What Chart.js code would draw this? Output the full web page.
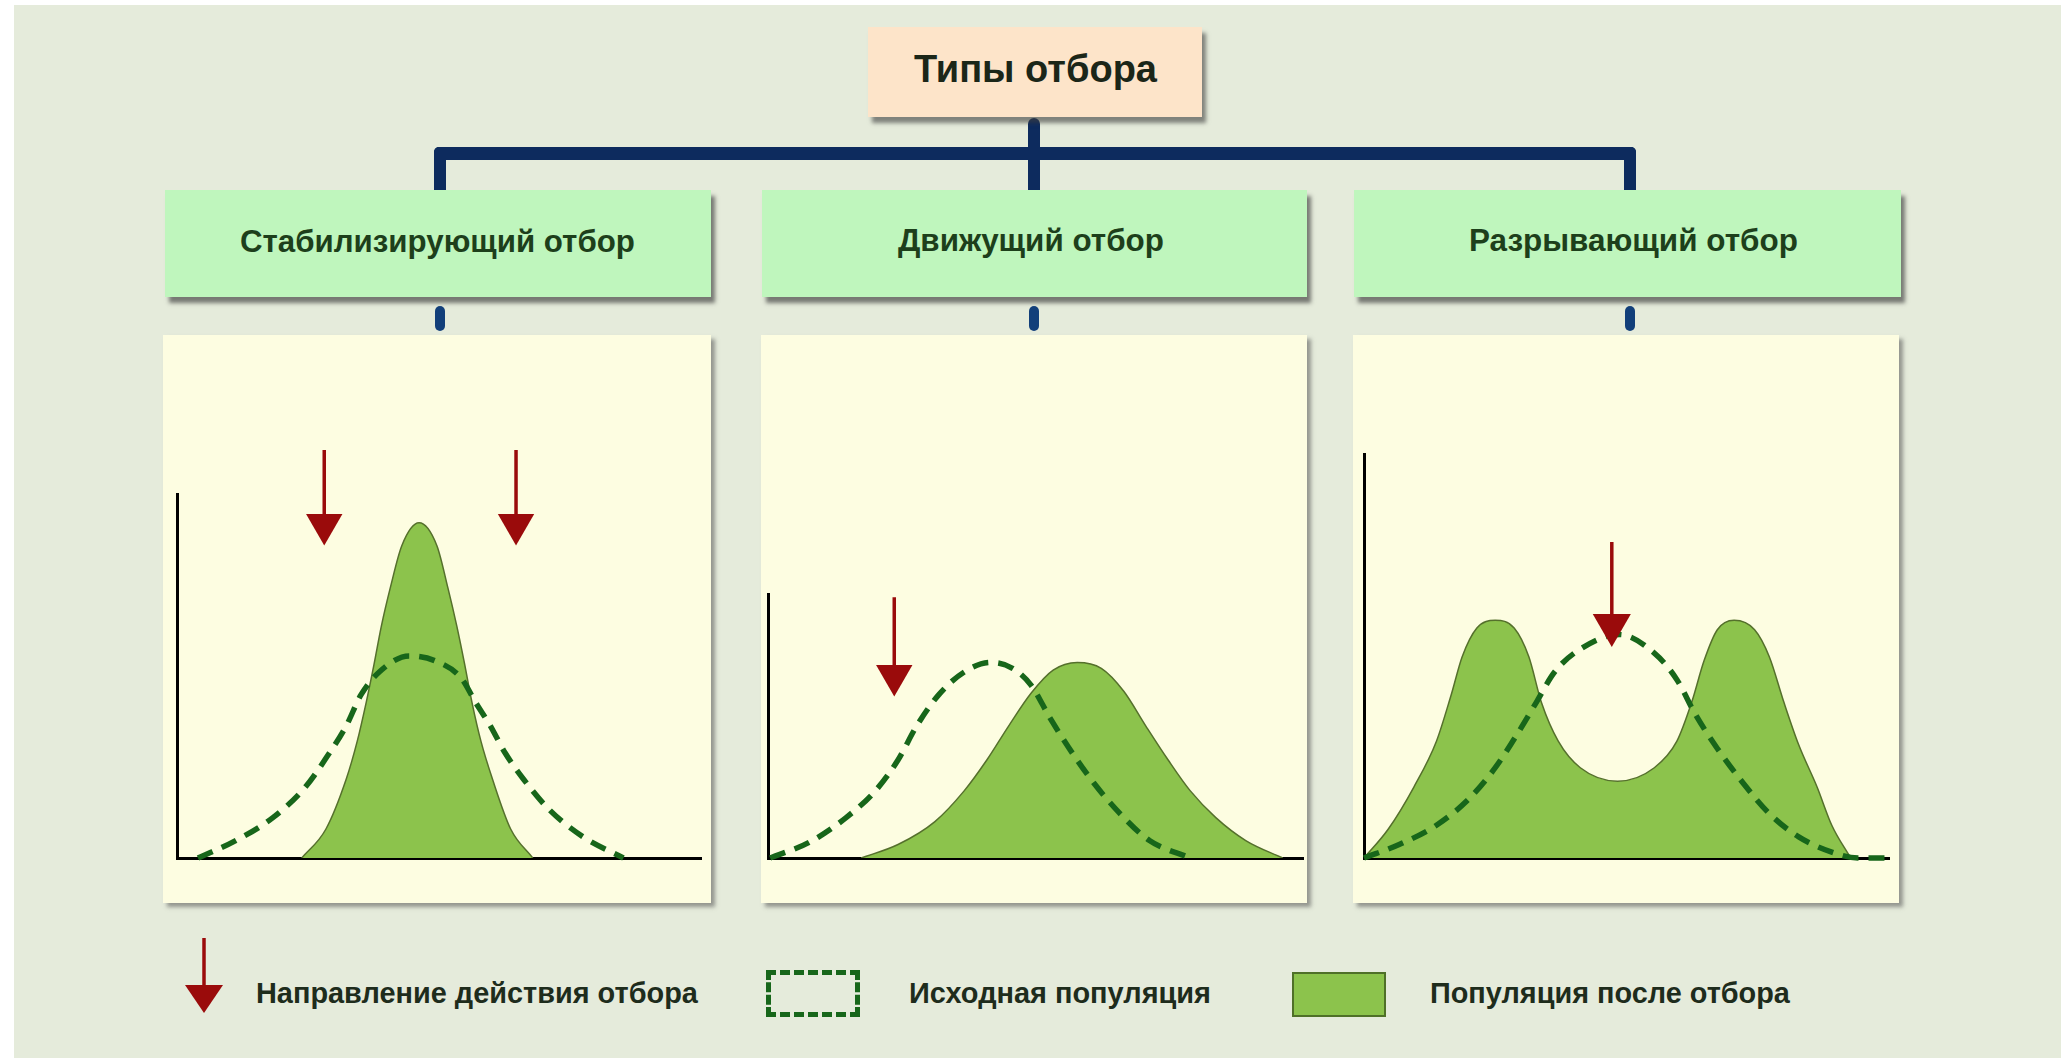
<!DOCTYPE html>
<html><head><meta charset="utf-8">
<script src="https://cdn.jsdelivr.net/npm/chart.js@4.4.0/dist/chart.umd.min.js"></script>
<style>
html,body{margin:0;padding:0;background:#ffffff;}
body{width:2061px;height:1058px;position:relative;overflow:hidden;font-family:"Liberation Sans",Arial,sans-serif;}
#bg{position:absolute;left:14px;top:5px;right:0;bottom:0;background:#e5ebdb;}
.abs{position:absolute;}
.txt{position:absolute;white-space:nowrap;font-weight:bold;line-height:1;}
canvas{position:absolute;}
.navy{position:absolute;background:#0d2b5e;}
.stub{position:absolute;background:#123f7a;border-radius:5px;width:10px;}
.panel{position:absolute;background:#fdfde1;box-shadow:4px 4px 4px rgba(80,80,80,0.55);}
.head{position:absolute;background:#bff6bd;box-shadow:4px 6px 4px rgba(60,60,60,0.65);}
</style></head><body>
<div id="bg"></div>

<!-- connectors -->
<div class="navy" style="left:1028px;top:118px;width:12px;height:74px;border-radius:6px 6px 0 0;"></div>
<div class="navy" style="left:434px;top:147px;width:1202px;height:13px;border-radius:5px 5px 0 0;"></div>
<div class="navy" style="left:434px;top:147px;width:12px;height:44px;border-radius:5px 0 0 0;"></div>
<div class="navy" style="left:1624px;top:147px;width:12px;height:44px;border-radius:0 5px 0 0;"></div>

<div class="abs" style="left:868px;top:27px;width:334px;height:90px;background:#fde4c9;box-shadow:4px 6px 4px rgba(60,60,60,0.6);"></div>

<div class="head" style="left:165px;top:190px;width:546px;height:107px;"></div>
<div class="head" style="left:762px;top:190px;width:545px;height:107px;"></div>
<div class="head" style="left:1354px;top:190px;width:547px;height:107px;"></div>

<div class="stub" style="left:435px;top:306px;height:25px;"></div>
<div class="stub" style="left:1029px;top:306px;height:25px;"></div>
<div class="stub" style="left:1625px;top:306px;height:25px;"></div>

<div class="panel" style="left:163px;top:335px;width:548px;height:568px;"></div>
<div class="panel" style="left:761px;top:335px;width:546px;height:568px;"></div>
<div class="panel" style="left:1353px;top:335px;width:546px;height:568px;"></div>

<canvas id="c1" width="548" height="568" style="left:163px;top:335px;"></canvas>
<canvas id="c2" width="546" height="568" style="left:761px;top:335px;"></canvas>
<canvas id="c3" width="546" height="568" style="left:1353px;top:335px;"></canvas>

<!-- legend marks -->
<svg class="abs" style="left:180px;top:930px;" width="50" height="90">
  <line x1="24" y1="8" x2="24" y2="60" stroke="#9a0b0b" stroke-width="3.5"/>
  <polygon points="5,55 43,55 24,83" fill="#9a0b0b"/>
</svg>
<div class="abs" style="left:766px;top:970px;width:94px;height:47px;box-sizing:border-box;border:5px dashed #17661a;"></div>
<div class="abs" style="left:1292px;top:972px;width:94px;height:45px;box-sizing:border-box;background:#8cc34c;border:2px solid #4f7028;"></div>

<div id="texts"></div>

<script>
// ---------- text ----------
const mainTitle = "Типы отбора";
const panelTitles = ["Стабилизирующий отбор", "Движущий отбор", "Разрывающий отбор"];
const legendLabels = ["Направление действия отбора", "Исходная популяция", "Популяция после отбора"];

// ---------- data (x: trait value 0..100, y: frequency) ----------
// Stabilizing selection
const stabAfterX  = [23.8, 28.4, 32.3, 34.4, 36.1, 37.6, 39.0, 40.7, 42.9, 46.2, 49.6, 51.7, 53.4, 54.9, 56.3, 58.0, 60.2, 63.7, 67.9];
const stabAfterY  = [0, 7.9, 21.7, 32.1, 42.7, 53.2, 63.7, 74.2, 85.8, 92.1, 85.8, 74.2, 63.7, 53.2, 42.7, 32.1, 21.7, 7.9, 0];
const stabBeforeX = [4.0, 11.1, 18.3, 24.5, 28.7, 32.3, 35.1, 38.6, 44.3, 49.2, 54.2, 57.0, 59.8, 62.6, 66.1, 71.1, 77.5, 85.2];
const stabBeforeY = [0, 4.7, 11.1, 19.5, 28.0, 36.3, 44.8, 51.1, 55.5, 54.2, 49.5, 42.7, 36.3, 28.9, 21.7, 13.2, 5.8, 0];
const stabArrowX    = [28.1, 64.7];
const stabArrowTop  = [112.1, 112.1];
const stabArrowHead = [91.6, 91.6];

// Directional selection
const dirAfterX  = [17.4, 24.3, 31.2, 36.7, 40.9, 45.0, 49.2, 53.3, 57.8, 62.3, 66.5, 70.6, 74.8, 78.9, 83.7, 89.3, 96.2];
const dirAfterY  = [0, 3.7, 10.0, 18.5, 26.9, 36.3, 45.3, 51.6, 53.7, 52.1, 45.8, 36.3, 26.9, 18.5, 11.1, 4.8, 0];
const dirBeforeX = [0.4, 7.7, 14.6, 20.1, 24.3, 27.8, 31.9, 36.7, 41.6, 45.7, 49.2, 52.7, 56.8, 60.9, 65.8, 71.3, 78.9];
const dirBeforeY = [0, 4.3, 11.1, 18.5, 26.9, 36.3, 44.8, 51.1, 53.7, 52.1, 47.4, 38.5, 29.0, 20.6, 12.2, 4.8, 0];
const dirArrowX    = [23.6];
const dirArrowTop  = [71.6];
const dirArrowHead = [50.1];

// Disruptive selection
const disAfterX  = [0, 4.6, 9.5, 13.8, 16.6, 18.7, 21.5, 25.0, 28.6, 31.4, 33.8, 37.0, 41.2, 48.3, 55.3, 59.6, 62.4, 64.8, 67.3, 70.5, 74.4, 77.2, 80.0, 82.8, 86.3, 89.1, 92.7];
const disAfterY  = [0, 7.9, 19.5, 32.1, 44.8, 55.3, 63.2, 65.3, 63.2, 55.3, 42.7, 32.1, 24.8, 21.1, 24.8, 32.1, 42.7, 54.3, 62.7, 65.3, 62.7, 55.3, 42.7, 31.1, 19.5, 9.0, 0];
const disBeforeX = [0, 6.7, 13.8, 20.1, 25.0, 29.3, 32.8, 36.3, 41.2, 48.6, 55.3, 59.6, 63.1, 67.3, 72.2, 77.2, 82.8, 89.1, 94.1, 99.7];
const disBeforeY = [0, 3.7, 9.0, 16.4, 24.8, 34.3, 42.7, 51.1, 57.4, 61.4, 56.3, 49.0, 39.5, 30.1, 20.6, 12.2, 5.8, 1.6, 0, 0];
const disArrowX    = [47.2];
const disArrowTop  = [86.8];
const disArrowHead = [64.0];

const yMax = [100, 72.5, 111];

// ---------- styling ----------
const GREEN_FILL = '#8cc34c', GREEN_EDGE = '#55702c', DASH = '#17661a', RED = '#9a0b0b';

function pts(xs, ys) { return xs.map((x, i) => ({x: x, y: ys[i]})); }

function makeChart(id, afterX, afterY, beforeX, beforeY, arX, arTop, arHead, ymax, pad, headR) {
  const datasets = [];
  arX.forEach((x, i) => {
    datasets.push({
      data: [{x: x, y: arTop[i]}, {x: x, y: arHead[i]}],
      borderColor: RED, borderWidth: 3.5, pointRadius: [0, headR], pointStyle: 'triangle',
      pointRotation: 180, pointBackgroundColor: RED, pointBorderColor: RED, pointBorderWidth: 0,
      pointHoverRadius: 0, fill: false, clip: false, order: 1
    });
  });
  datasets.push({
    data: pts(beforeX, beforeY), fill: false, borderColor: DASH, borderWidth: 5.5,
    borderDash: [16, 10], pointRadius: 0, cubicInterpolationMode: 'monotone', clip: false, order: 2
  });
  datasets.push({
    data: pts(afterX, afterY), fill: 'origin', backgroundColor: GREEN_FILL, borderColor: GREEN_EDGE,
    borderWidth: 1.5, pointRadius: 0, cubicInterpolationMode: 'monotone', order: 3
  });
  new Chart(document.getElementById(id), {
    type: 'line',
    data: {datasets: datasets},
    options: {
      responsive: false, animation: false, events: [],
      layout: {padding: pad, autoPadding: false},
      plugins: {legend: {display: false}, tooltip: {enabled: false}},
      scales: {
        x: {type: 'linear', min: 0, max: 100, ticks: {display: false}, grid: {display: false, drawTicks: false},
            border: {display: true, color: '#000', width: 3}},
        y: {type: 'linear', min: 0, max: ymax, ticks: {display: false}, grid: {display: false, drawTicks: false},
            border: {display: true, color: '#000', width: 3}}
      }
    }
  });
}

makeChart('c1', stabAfterX, stabAfterY, stabBeforeX, stabBeforeY, stabArrowX, stabArrowTop, stabArrowHead, yMax[0],
  {left: 14, top: 159, right: 10, bottom: 45}, 21);
makeChart('c2', dirAfterX, dirAfterY, dirBeforeX, dirBeforeY, dirArrowX, dirArrowTop, dirArrowHead, yMax[1],
  {left: 7, top: 259, right: 4, bottom: 45}, 21);
makeChart('c3', disAfterX, disAfterY, disBeforeX, disBeforeY, disArrowX, disArrowTop, disArrowHead, yMax[2],
  {left: 11, top: 119, right: 10, bottom: 45}, 22);

// ---------- texts placed by target width / baseline ----------
const mctx = document.createElement('canvas').getContext('2d');
function addText(str, x, w, baseline, color) {
  mctx.font = 'bold 100px "Liberation Sans", Arial, sans-serif';
  const wm = mctx.measureText(str).width;
  const f = 100 * w / wm;
  const d = document.createElement('div');
  d.className = 'txt';
  d.textContent = str;
  d.style.fontSize = f.toFixed(2) + 'px';
  d.style.left = x + 'px';
  d.style.top = (baseline - 0.8465 * f).toFixed(1) + 'px';
  d.style.color = color;
  document.getElementById('texts').appendChild(d);
}
addText(mainTitle, 914, 243, 82, '#1b2618');
addText(panelTitles[0], 240, 395, 252, '#1d3f1b');
addText(panelTitles[1], 898, 266, 252, '#1d3f1b');
addText(panelTitles[2], 1469, 329, 252, '#1d3f1b');
addText(legendLabels[0], 256, 442, 1003, '#1e2c1c');
addText(legendLabels[1], 909, 302, 1003, '#1e2c1c');
addText(legendLabels[2], 1430, 360, 1003, '#1e2c1c');
</script>
</body></html>
